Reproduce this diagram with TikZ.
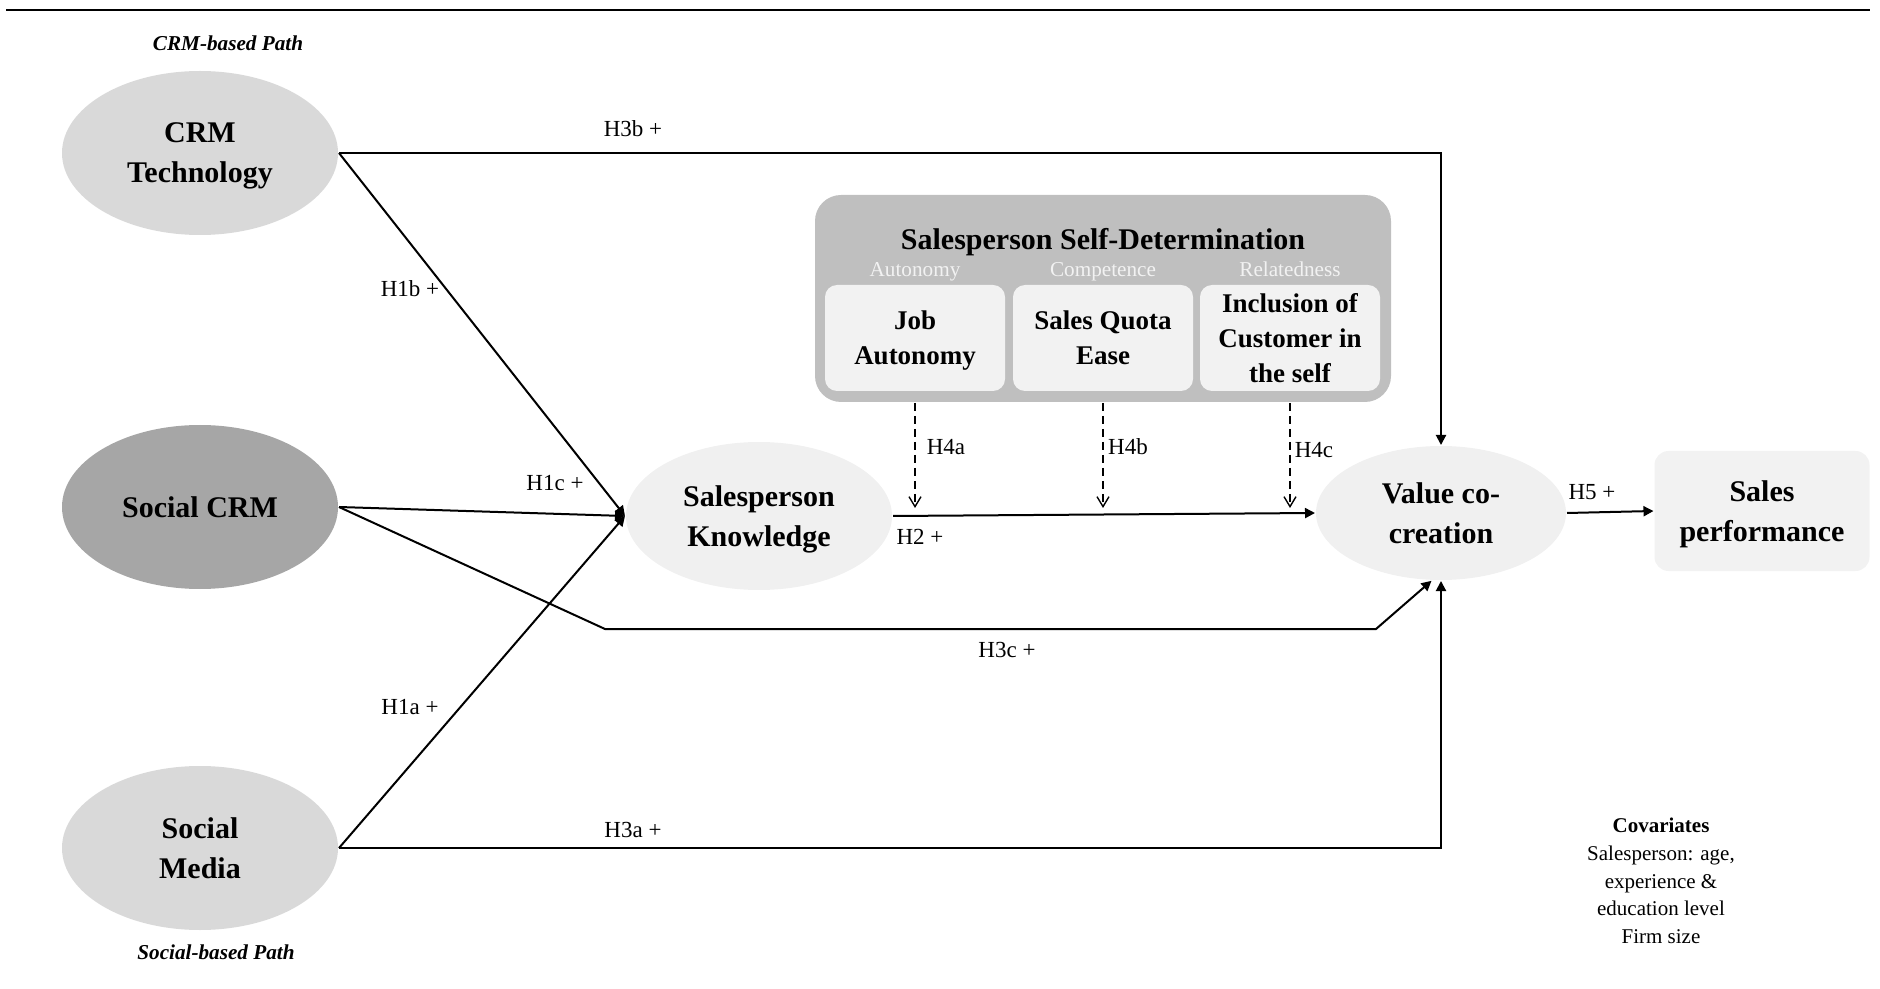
\documentclass[tikz,border=0pt]{standalone}
\usepackage{fontspec}
\setmainfont{Liberation Serif}
\usetikzlibrary{shapes.geometric,arrows.meta,positioning}

\definecolor{lightgrey}{RGB}{217,217,217}
\definecolor{darkgrey}{RGB}{166,166,166}
\definecolor{palegrey}{RGB}{240,240,240}
\definecolor{boxgrey}{RGB}{191,191,191}
\definecolor{cellgrey}{RGB}{242,242,242}

\tikzset{every picture/.style={line width=1pt}}

\begin{document}
\begin{tikzpicture}[x=0.5pt,y=0.5pt,yscale=-1,xscale=1,
	construct/.style={ellipse, fill=lightgrey, inner sep=0pt, minimum width=138pt, minimum height=82pt, text depth=-0.5pt, align=center, font=\fontsize{15}{20}\selectfont\bfseries},
	outcome/.style={rounded corners=7pt, fill=cellgrey, inner sep=0pt, minimum width=107.5pt, minimum height=60pt, text depth=-0.5pt, align=center, font=\fontsize{15}{20}\selectfont\bfseries},
	sdtbox/.style={rounded corners=13pt, fill=boxgrey, inner sep=0pt, minimum width=288pt, minimum height=103.5pt},
	dimbox/.style={rounded corners=6pt, fill=cellgrey, inner sep=0pt, minimum width=90pt, minimum height=53pt, text depth=-0.5pt, align=center, font=\fontsize{13.5}{17.4}\selectfont\bfseries},
	dimlabel/.style={text=cellgrey, inner sep=0.5pt, text height=7.5pt, text depth=2.5pt, font=\fontsize{10.6}{12}\selectfont},
	pathlabel/.style={font=\fontsize{10.6}{12}\selectfont\bfseries\itshape},
	lbl/.style={inner sep=1pt, font=\fontsize{11.5}{13}\selectfont},
	harrow/.style={-{Triangle[length=5pt,width=5pt]}},
	modarrow/.style={line width=0.7pt, dash pattern={on 4pt off 2.5pt}, -{Straight Barb[length=5pt,width=6pt]}}]
	\useasboundingbox (0,0) rectangle (1880,989);

	%Straight Lines [top rule]
	\draw [line width=0.6pt] (6,10) -- (1870,10) ;

	% Text Node
	\node [pathlabel] (crmpath) at (228,43) {CRM-based Path};
	% Text Node
	\node [pathlabel] (socpath) at (216,952) {Social-based Path};

	%Shape: Ellipse [antecedents]
	\node [construct] (crm) at (200,153) {CRM\\Technology};
	\node [construct, fill=darkgrey] (scrm) at (200,507) {Social CRM};
	\node [construct] (smed) at (200,848) {Social\\Media};
	%Shape: Ellipse [mediator, outcome]
	\node [construct, fill=palegrey, minimum width=133pt, minimum height=74pt] (sk) at (759,516) {Salesperson\\Knowledge};
	\node [construct, fill=palegrey, minimum width=125pt, minimum height=67pt] (vc) at (1441,513) {Value co-\\creation};
	%Shape: Rounded Rectangle
	\node [outcome] (perf) at (1762,511) {Sales\\performance};

	%Shape: Rounded Rectangle [self-determination]
	\node [sdtbox] (sdt) at (1103,298.5) {};
	% Text Node
	\node [font=\fontsize{15}{18}\selectfont\bfseries] (sdttitle) at (1103,242) {Salesperson Self-Determination};
	\node [dimbox] (job) at (915,338) {Job\\Autonomy};
	\node [dimbox] (quota) at (1103,338) {Sales Quota\\Ease};
	\node [dimbox] (incl) at (1290,338) {Inclusion of\\Customer in\\the self};
	\node [dimlabel, above=0pt of job] (autlbl) {Autonomy};
	\node [dimlabel, above=0pt of quota] (comlbl) {Competence};
	\node [dimlabel, above=0pt of incl] (rellbl) {Relatedness};

	%Straight Lines [H1]
	\draw [harrow] (crm.east) -- (sk.west) ;
	\draw [harrow] (scrm.east) -- (sk.west) ;
	\draw [harrow] (smed.east) -- (sk.west) ;
	%Straight Lines [H2, H5]
	\draw [harrow] (sk.east) -- (vc.west) ;
	\draw [harrow] (vc.east) -- (perf.west) ;
	%Straight Lines [H3]
	\draw [harrow] (crm.east) -- (vc.north |- crm.east) -- (vc.north) ;
	\coordinate (h3cl) at (605,629) ;
	\coordinate (h3cr) at (1376,629) ;
	\draw [harrow] (scrm.east) -- (h3cl) -- (h3cr) -- (vc.262) ;
	\draw [harrow] (smed.east) -- (vc.south |- smed.east) -- (vc.south) ;
	%Straight Lines [H4 moderation]
	\coordinate (modend) at (0,508) ;
	\draw [modarrow] (job |- sdt.south) -- (job |- modend) ;
	\draw [modarrow] (quota |- sdt.south) -- (quota |- modend) ;
	\draw [modarrow] (incl |- sdt.south) -- (incl |- modend) ;

	% Text Node
	\node [lbl] (h1b) at (410,289) {H1b +};
	\node [lbl] (h1c) at (555,483) {H1c +};
	\node [lbl] (h1a) at (410,707) {H1a +};
	\node [lbl] (h2) at (920,537) {H2 +};
	\node [lbl] (h3b) at (633,129) {H3b +};
	\node [lbl] (h3c) at (1007,650) {H3c +};
	\node [lbl] (h3a) at (633,830) {H3a +};
	\node [lbl] (h4a) at (946,447) {H4a};
	\node [lbl] (h4b) at (1128,447) {H4b};
	\node [lbl] (h4c) at (1314,450) {H4c};
	\node [lbl] (h5) at (1592,492) {H5 +};
	% Text Node
	\node [align=center, font=\fontsize{10.5}{13.8}\selectfont] (covar) at (1661,881) {\textbf{Covariates}\\Salesperson: age,\\experience \&\\education level\\Firm size};

\end{tikzpicture}
\end{document}
